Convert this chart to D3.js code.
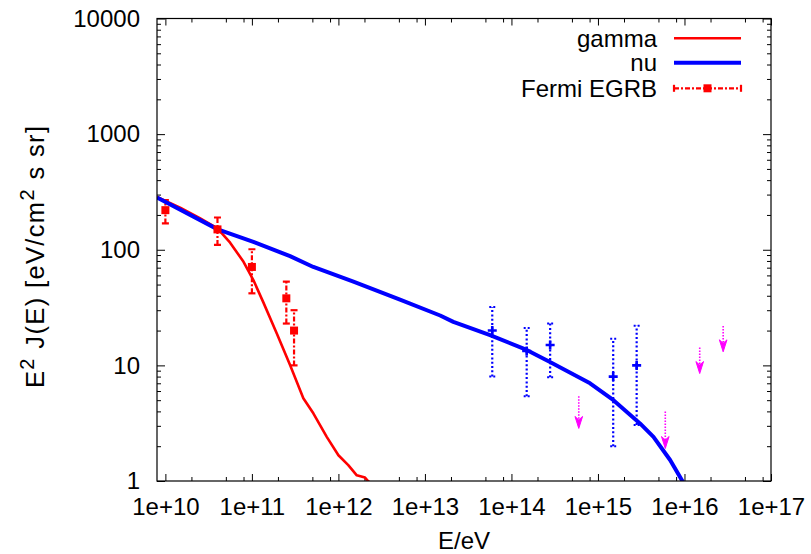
<!DOCTYPE html>
<html>
<head>
<meta charset="utf-8">
<script src="https://cdn.jsdelivr.net/npm/d3@7/dist/d3.min.js"></script>
<style>
  html, body { margin: 0; padding: 0; background: #fff; }
  svg { display: block; font-family: "Liberation Sans", Arial, Helvetica, sans-serif; }
  .tick text { font-size: 24px; fill: #000; }
</style>
</head>
<body>
<svg id="chart" width="811" height="554"></svg>
<script>
// ---------------- data ----------------
const xMajorTicks = [1e10, 1e11, 1e12, 1e13, 1e14, 1e15, 1e16, 1e17];
const xTickLabels = ["1e+10", "1e+11", "1e+12", "1e+13", "1e+14", "1e+15", "1e+16", "1e+17"];
const yMajorTicks = [1, 10, 100, 1000, 10000];
const yTickLabels = ["1", "10", "100", "1000", "10000"];

// gamma model curve
const gammaE = [8e9, 1.5e10, 2.5e10, 4e10, 5.6e10, 8e10, 1.04e11, 1.36e11, 1.94e11, 2.76e11, 3.93e11, 5.13e11, 7.33e11, 1.0e12, 1.3e12, 1.63e12, 2.03e12, 2.2e12, 2.6e12];
const gammaV = [286, 230, 188, 153, 115, 78.7, 54.7, 34.9, 18.9, 10.07, 5.19, 3.85, 2.41, 1.67, 1.37, 1.12, 1.07, 1.0, 0.9];

// neutrino model curve
const nuE = [8e9, 4.03e10, 1.04e11, 2.76e11, 5.13e11, 1.49e12, 5.15e12, 1.5e13, 2.13e13, 5.66e13, 1.5e14, 2.79e14, 8.1e14, 1.51e15, 3.06e15, 4.38e15, 6.82e15, 9.31e15, 1.1e16];
const nuV = [283, 150, 117, 88, 71, 53, 37, 27, 23.8, 18.3, 13.6, 10.7, 7.0, 5.0, 3.15, 2.41, 1.52, 1.02, 0.8];

// Fermi EGRB points
const fermiE = [1.0e10, 4.0e10, 1.0e11, 2.5e11, 3.07e11];
const fermiV = [220, 150, 71, 38, 20];
const fermiLo = [169, 110, 42, 23, 10];
const fermiHi = [269, 190, 101, 53, 30];

// neutrino data points
const icE = [6.0e13, 1.5e14, 2.8e14, 1.5e15, 2.8e15];
const icV = [20, 13.3, 15, 8, 10];
const icLo = [8, 5.4, 7.9, 2.0, 3.05];
const icHi = [32, 21, 23, 17, 22];

// upper limits (arrows)
const ulE = [6.0e14, 6.0e15, 1.5e16, 2.8e16];
const ulTop = [5.4, 4.0, 14.3, 21.9];
const ulTip = [2.85, 1.91, 8.5, 13.1];

const legendLabels = ["gamma", "nu", "Fermi EGRB"];

// ---------------- layout ----------------
const L = 157, R = 771, T = 18.5, B = 481;
const svg = d3.select("#chart");

const x = d3.scaleLog().domain([8e9, 1e17]).range([L, R]);
const y = d3.scaleLog().domain([1, 10000]).range([B, T]);

const xMinor = [];
for (let d = 1e10 / 10; d < 1e17; d *= 10) for (const m of [2, 5, 8]) { const v = d * m; if (v > 8e9 && v < 1e17) xMinor.push(v); }
const yMinor = [];
for (let d = 1; d < 10000; d *= 10) for (let m = 2; m <= 9; m++) yMinor.push(d * m);

function styleAxis(g) {
  g.select(".domain").remove();
  g.selectAll(".tick line").attr("stroke", "#000").attr("stroke-width", 1);
}

// bottom
svg.append("g").attr("transform", `translate(0,${B})`)
  .call(d3.axisBottom(x).tickValues(xMajorTicks).tickSize(-7).tickSizeOuter(0).tickPadding(17)
    .tickFormat((d, i) => xTickLabels[i]))
  .call(styleAxis);
svg.append("g").attr("transform", `translate(0,${B})`)
  .call(d3.axisBottom(x).tickValues(xMinor).tickSize(-4).tickSizeOuter(0).tickFormat(""))
  .call(styleAxis);
// top
svg.append("g").attr("transform", `translate(0,${T})`)
  .call(d3.axisTop(x).tickValues(xMajorTicks).tickSize(-7).tickSizeOuter(0).tickFormat(""))
  .call(styleAxis);
svg.append("g").attr("transform", `translate(0,${T})`)
  .call(d3.axisTop(x).tickValues(xMinor).tickSize(-4).tickSizeOuter(0).tickFormat(""))
  .call(styleAxis);
// left
svg.append("g").attr("transform", `translate(${L},0)`)
  .call(d3.axisLeft(y).tickValues(yMajorTicks).tickSize(-8).tickSizeOuter(0).tickPadding(17)
    .tickFormat((d, i) => yTickLabels[i]))
  .call(styleAxis);
svg.append("g").attr("transform", `translate(${L},0)`)
  .call(d3.axisLeft(y).tickValues(yMinor).tickSize(-4).tickSizeOuter(0).tickFormat(""))
  .call(styleAxis);
// right
svg.append("g").attr("transform", `translate(${R},0)`)
  .call(d3.axisRight(y).tickValues(yMajorTicks).tickSize(-8).tickSizeOuter(0).tickFormat(""))
  .call(styleAxis);
svg.append("g").attr("transform", `translate(${R},0)`)
  .call(d3.axisRight(y).tickValues(yMinor).tickSize(-4).tickSizeOuter(0).tickFormat(""))
  .call(styleAxis);

// axis titles
svg.append("text").attr("x", (L + R) / 2).attr("y", 549).attr("text-anchor", "middle")
  .attr("font-size", 24).text("E/eV");
const yl = svg.append("text").attr("transform", `translate(44,257) rotate(-90)`)
  .attr("text-anchor", "middle").attr("font-size", 25.5)
  .attr("textLength", 262).attr("lengthAdjust", "spacing");
yl.append("tspan").text("E");
yl.append("tspan").attr("font-size", 20).attr("dy", -10).text("2");
yl.append("tspan").attr("dy", 10).text(" J(E) [eV/cm");
yl.append("tspan").attr("font-size", 20).attr("dy", -10).text("2");
yl.append("tspan").attr("dy", 10).text(" s sr]");

// clip
svg.append("clipPath").attr("id", "clip").append("rect")
  .attr("x", L).attr("y", T).attr("width", R - L).attr("height", B - T);
const plot = svg.append("g").attr("clip-path", "url(#clip)");

const line = d3.line().x(d => x(d[0])).y(d => y(d[1]));

// gamma curve
plot.append("path").datum(gammaE.map((e, i) => [e, gammaV[i]]))
  .attr("d", line).attr("fill", "none").attr("stroke", "#ff0000").attr("stroke-width", 2.6)
  .attr("stroke-linejoin", "round");

// Fermi error bars
const fermi = fermiE.map((e, i) => ({ e, v: fermiV[i], lo: fermiLo[i], hi: fermiHi[i] }));
const fg = plot.append("g");
fg.selectAll("line.bar").data(fermi).join("line")
  .attr("x1", d => x(d.e)).attr("x2", d => x(d.e))
  .attr("y1", d => y(d.lo)).attr("y2", d => y(d.hi))
  .attr("stroke", "#ff0000").attr("stroke-width", 2.2).attr("stroke-dasharray", "5,2,2,2");
["lo", "hi"].forEach(k => {
  fg.append("g").selectAll("line").data(fermi).join("line")
    .attr("x1", d => x(d.e) - 3.5).attr("x2", d => x(d.e) + 3.5)
    .attr("y1", d => y(d[k])).attr("y2", d => y(d[k]))
    .attr("stroke", "#ff0000").attr("stroke-width", 2.2);
});

// nu curve
plot.append("path").datum(nuE.map((e, i) => [e, nuV[i]]))
  .attr("d", line).attr("fill", "none").attr("stroke", "#0000ff").attr("stroke-width", 4)
  .attr("stroke-linejoin", "round");

// Fermi squares (on top)
plot.append("g").selectAll("rect").data(fermi).join("rect")
  .attr("x", d => x(d.e) - 4).attr("y", d => y(d.v) - 4)
  .attr("width", 8).attr("height", 8).attr("fill", "#ff0000");

// neutrino data
const ic = icE.map((e, i) => ({ e, v: icV[i], lo: icLo[i], hi: icHi[i] }));
const ig = plot.append("g");
ig.selectAll("line.bar").data(ic).join("line")
  .attr("x1", d => x(d.e)).attr("x2", d => x(d.e))
  .attr("y1", d => y(d.lo)).attr("y2", d => y(d.hi))
  .attr("stroke", "#0000ff").attr("stroke-width", 2.2).attr("stroke-dasharray", "2,2.3");
["lo", "hi"].forEach(k => {
  ig.append("g").selectAll("line").data(ic).join("line")
    .attr("x1", d => x(d.e) - 3).attr("x2", d => x(d.e) + 3)
    .attr("y1", d => y(d[k])).attr("y2", d => y(d[k]))
    .attr("stroke", "#0000ff").attr("stroke-width", 2).attr("stroke-dasharray", "2,2");
});
ig.append("g").selectAll("path").data(ic).join("path")
  .attr("d", d => `M${x(d.e) - 4.5},${y(d.v)}H${x(d.e) + 4.5}M${x(d.e)},${y(d.v) - 4.5}V${y(d.v) + 4.5}`)
  .attr("stroke", "#0000ff").attr("stroke-width", 2.6).attr("fill", "none");

// upper-limit arrows
const ul = ulE.map((e, i) => ({ e, top: ulTop[i], tip: ulTip[i] }));
const ag = plot.append("g");
ag.selectAll("line").data(ul).join("line")
  .attr("x1", d => x(d.e)).attr("x2", d => x(d.e))
  .attr("y1", d => y(d.top)).attr("y2", d => y(d.tip) - 7)
  .attr("stroke", "#ff00ff").attr("stroke-width", 1.6).attr("stroke-dasharray", "1.5,1.5");
ag.selectAll("path").data(ul).join("path")
  .attr("d", d => { const cx = x(d.e), ty = y(d.tip); return `M${cx},${ty}L${cx - 3.8},${ty - 12}L${cx},${ty - 8.5}L${cx + 3.8},${ty - 12}Z`; })
  .attr("fill", "#ff00ff").attr("stroke", "#ff00ff").attr("stroke-width", 1).attr("stroke-linejoin", "miter");

// frame
svg.append("rect").attr("x", L).attr("y", T).attr("width", R - L).attr("height", B - T)
  .attr("fill", "none").attr("stroke", "#000").attr("stroke-width", 1.2);

// legend
const legY = [38.3, 62.7, 88.3];
const lg = svg.append("g");
lg.selectAll("text").data(legendLabels).join("text")
  .attr("x", 657).attr("y", (d, i) => legY[i] + 8.4).attr("text-anchor", "end")
  .attr("font-size", 24).text(d => d);
lg.append("line").attr("x1", 674).attr("x2", 741).attr("y1", legY[0]).attr("y2", legY[0])
  .attr("stroke", "#ff0000").attr("stroke-width", 2.6);
lg.append("line").attr("x1", 674).attr("x2", 741).attr("y1", legY[1]).attr("y2", legY[1])
  .attr("stroke", "#0000ff").attr("stroke-width", 4);
lg.append("line").attr("x1", 674).attr("x2", 741).attr("y1", legY[2]).attr("y2", legY[2])
  .attr("stroke", "#ff0000").attr("stroke-width", 2.2).attr("stroke-dasharray", "5,2,2,2");
[674, 741].forEach(cx => lg.append("line").attr("x1", cx).attr("x2", cx)
  .attr("y1", legY[2] - 3.5).attr("y2", legY[2] + 3.5).attr("stroke", "#ff0000").attr("stroke-width", 2.2));
lg.append("rect").attr("x", 707.5 - 4).attr("y", legY[2] - 4).attr("width", 8).attr("height", 8).attr("fill", "#ff0000");
</script>
</body>
</html>
